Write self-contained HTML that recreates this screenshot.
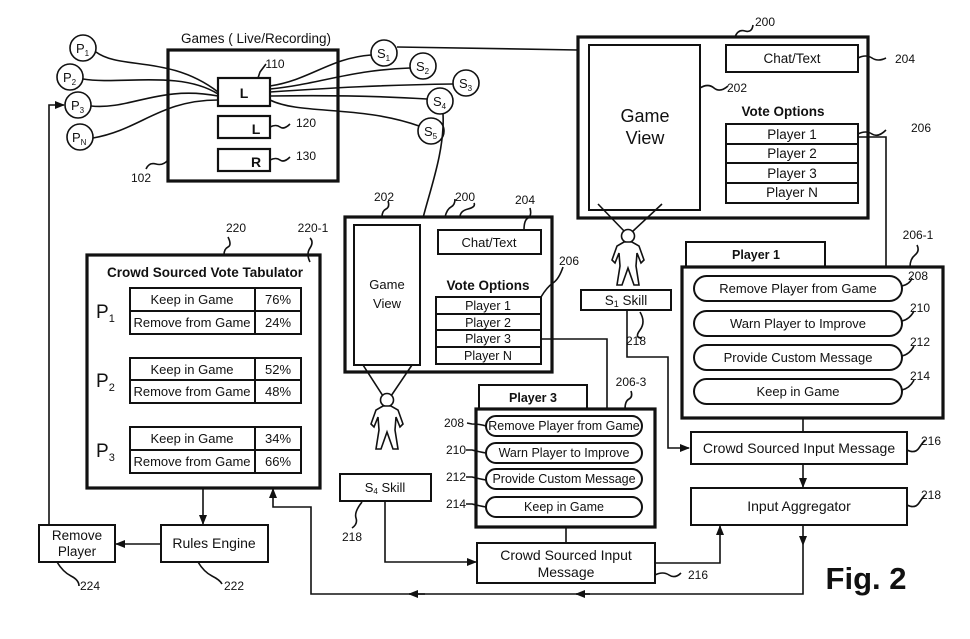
<!DOCTYPE html>
<html><head><meta charset="utf-8"><style>
html,body{margin:0;padding:0;background:#fff;}
svg{display:block;}
text{font-family:"Liberation Sans",Arial,sans-serif;fill:#111;}
</style></head><body>
<svg width="970" height="639" viewBox="0 0 970 639" xmlns="http://www.w3.org/2000/svg">
<defs>
<marker id="a" markerWidth="10" markerHeight="10" refX="9" refY="5" orient="auto" markerUnits="userSpaceOnUse"><path d="M0,1 L10,5 L0,9 Z" fill="#111"/></marker>
<g id="person" fill="#fff" stroke="#111" stroke-width="1.6">
<circle cx="0" cy="0" r="6.5"/>
<path d="M-4,6 L-11,10 L-16,24 L-13,27 L-9,17 L-8,30 L-11,49 L-6,49 L0,32 L6,49 L11,49 L8,30 L9,17 L13,27 L16,24 L11,10 L4,6 Z"/>
</g>
</defs>
<rect width="970" height="639" fill="#fff"/>
<g fill="none" stroke="#111" stroke-width="1.6">
<rect x="168" y="50" width="170" height="131" stroke-width="3.2"/>
<rect x="218" y="78" width="52" height="28" stroke-width="2.2"/>
<rect x="218" y="116" width="52" height="22" stroke-width="2.2"/>
<rect x="218" y="149" width="52" height="22" stroke-width="2.2"/>
<path d="M270,127 q6,-3 10,0 t10,-3"/>
<path d="M270,160 q6,-3 10,0 t10,-3"/>
<path d="M258,78 l2,-6 q3,-4 6,-8"/>
<path d="M168,160 q-5,6 -12,4 t-10,5"/>
<circle cx="83" cy="48" r="13"/><circle cx="70" cy="77" r="13"/><circle cx="78" cy="105" r="13"/><circle cx="80" cy="137" r="13"/>
<path d="M96,52 C120,70 170,55 218,92"/>
<path d="M83,79 C120,85 180,70 218,94"/>
<path d="M91,106 C130,110 160,85 218,96"/>
<path d="M93,138 C140,130 160,100 218,100"/>
<circle cx="384" cy="53" r="13"/><circle cx="423" cy="66" r="13"/><circle cx="466" cy="83" r="13"/><circle cx="440" cy="101" r="13"/><circle cx="431" cy="131" r="13"/>
<path d="M270,86 C310,80 330,58 371,55"/>
<path d="M270,89 C320,84 350,70 410,68"/>
<path d="M270,92 C330,88 380,85 453,84"/>
<path d="M270,96 C330,95 380,96 427,99"/>
<path d="M270,100 C300,115 360,105 419,126"/>
<path d="M397,47 L578,50"/>
<path d="M443,114 C445,150 430,190 423,218"/>
<rect x="578" y="37" width="290" height="181" stroke-width="3.2"/>
<rect x="589" y="45" width="111" height="165" stroke-width="2"/>
<rect x="726" y="45" width="132" height="27" stroke-width="2"/>
<rect x="726" y="124" width="132" height="79" stroke-width="2"/>
<path d="M726,144 H858 M726,163 H858 M726,183 H858" stroke-width="2"/>
<path d="M700,88 q8,-5 14,0 t14,-2"/>
<path d="M858,58 q8,-4 14,0 t14,0"/>
<path d="M858,134 q8,-4 14,0 t14,-4"/>
<path d="M735,37 q3,-8 10,-6 t8,-6"/>
<path d="M598,204 L625,232 M662,204 L632,232"/>
<rect x="581" y="290" width="90" height="20" stroke-width="2"/>
<path d="M627,310 V357 H668 V448 H689" marker-end="url(#a)"/>
<path d="M640,312 q6,10 0,18 t2,8"/>
<path d="M858,137 H886 V267"/>
<rect x="686" y="242" width="139" height="25" stroke-width="2"/>
<rect x="682" y="267" width="261" height="151" stroke-width="3.2"/>
<rect x="694" y="276" width="208" height="25" rx="12.5" stroke-width="2"/>
<rect x="694" y="311" width="208" height="25" rx="12.5" stroke-width="2"/>
<rect x="694" y="345" width="208" height="25" rx="12.5" stroke-width="2"/>
<rect x="694" y="379" width="208" height="25" rx="12.5" stroke-width="2"/>
<path d="M902,286 q8,-2 10,-8 M902,321 q8,-2 12,-10 M902,356 q8,-2 12,-10 M902,390 q8,-2 12,-10"/>
<path d="M910,267 q0,-8 5,-12 t2,-10"/>
<path d="M803,418 V432"/>
<rect x="691" y="432" width="216" height="32" stroke-width="2"/>
<rect x="691" y="488" width="216" height="37" stroke-width="2"/>
<path d="M803,464 V487" marker-end="url(#a)"/>
<path d="M803,525 V545" marker-end="url(#a)"/>
<path d="M907,450 q8,4 12,-2 t6,-8"/>
<path d="M907,505 q8,4 12,-2 t6,-8"/>
<path d="M803,545 V594 H311 V507 H273 V489" marker-end="url(#a)"/>
<path d="M590,594 H576" marker-end="url(#a)"/>
<path d="M425,594 H409" marker-end="url(#a)"/>
<rect x="345" y="217" width="207" height="155" stroke-width="3.2"/>
<rect x="354" y="225" width="66" height="140" stroke-width="2"/>
<rect x="438" y="230" width="103" height="24" stroke-width="2"/>
<rect x="436" y="297" width="105" height="67" stroke-width="2"/>
<path d="M436,314 H541 M436,330 H541 M436,347 H541" stroke-width="2"/>
<path d="M382,217 q0,-6 4,-8 t2,-8 M445,217 q2,-8 6,-10 t4,-8 M460,217 q0,-6 8,-8 t6,-6 M524,230 q0,-10 4,-12 t2,-10 M541,297 q6,-10 12,-14 t10,-16"/>
<path d="M541,339 H607 V409"/>
<path d="M363,365 L383,396 M412,365 L391,396"/>
<rect x="340" y="474" width="91" height="27" stroke-width="2"/>
<path d="M385,501 V562 H476" marker-end="url(#a)"/>
<path d="M362,502 q-8,10 -6,16 t-4,10"/>
<rect x="479" y="385" width="108" height="24" stroke-width="2"/>
<rect x="476" y="409" width="179" height="118" stroke-width="3.2"/>
<rect x="486" y="416" width="156" height="20" rx="10" stroke-width="2"/>
<rect x="486" y="443" width="156" height="20" rx="10" stroke-width="2"/>
<rect x="486" y="469" width="156" height="20" rx="10" stroke-width="2"/>
<rect x="486" y="497" width="156" height="20" rx="10" stroke-width="2"/>
<path d="M467,423 l5,1 q8,0 14,2 M466,450 l6,0 q8,2 14,3 M466,477 l6,0 q8,2 14,3 M466,504 l6,0 q8,2 14,3"/>
<path d="M625,409 q0,-8 4,-10 t2,-8"/>
<path d="M566,527 V543"/>
<rect x="477" y="543" width="178" height="40" stroke-width="2"/>
<path d="M655,563 H720 V526" marker-end="url(#a)"/>
<path d="M655,575 q8,-4 14,0 t12,-2"/>
<rect x="87" y="255" width="233" height="233" stroke-width="3.2"/>
<rect x="130" y="288" width="171" height="46" stroke-width="2"/>
<rect x="130" y="358" width="171" height="45" stroke-width="2"/>
<rect x="130" y="427" width="171" height="46" stroke-width="2"/>
<path d="M130,311 H301 M255,288 V334 M130,380 H301 M255,358 V403 M130,450 H301 M255,427 V473" stroke-width="2"/>
<path d="M224,255 q0,-6 4,-8 t0,-10 M310,262 q-4,-8 0,-14 t0,-10"/>
<path d="M203,488 V524" marker-end="url(#a)"/>
<rect x="161" y="525" width="107" height="37" stroke-width="2"/>
<rect x="39" y="525" width="76" height="37" stroke-width="2"/>
<path d="M161,544 H116" marker-end="url(#a)"/>
<path d="M49,525 V105 H64" marker-end="url(#a)"/>
<path d="M57,562 q6,10 14,14 t8,10 M198,562 q6,10 14,14 t10,8"/>
</g>
<use href="#person" x="628" y="236"/>
<use href="#person" x="387" y="400"/>
<g font-size="13.5" text-anchor="middle">
<text x="256" y="43">Games ( Live/Recording)</text>
<text x="244" y="98" font-weight="bold" font-size="14">L</text>
<text x="256" y="134" font-weight="bold" font-size="14">L</text>
<text x="256" y="167" font-weight="bold" font-size="14">R</text>
<text x="275" y="68" font-size="12">110</text>
<text x="306" y="127" font-size="12">120</text>
<text x="306" y="160" font-size="12">130</text>
<text x="141" y="182" font-size="12">102</text>
<text x="645" y="122" font-size="18">Game</text>
<text x="645" y="144" font-size="18">View</text>
<text x="792" y="63">Chat/Text</text>
<text x="783" y="116" font-weight="bold">Vote Options</text>
<text x="792" y="139">Player 1</text>
<text x="792" y="158">Player 2</text>
<text x="792" y="178">Player 3</text>
<text x="792" y="197">Player N</text>
<text x="737" y="92" font-size="12">202</text>
<text x="905" y="63" font-size="12">204</text>
<text x="921" y="132" font-size="12">206</text>
<text x="765" y="26" font-size="12">200</text>
<text x="626" y="305">S<tspan font-size="9" dy="2">1</tspan><tspan dy="-2"> Skill</tspan></text>
<text x="636" y="345" font-size="12">218</text>
<text x="756" y="259" font-weight="bold" font-size="12.5">Player 1</text>
<text x="918" y="239" font-size="12">206-1</text>
<text x="798" y="293" font-size="13">Remove Player from Game</text>
<text x="798" y="328" font-size="13">Warn Player to Improve</text>
<text x="798" y="362" font-size="13">Provide Custom Message</text>
<text x="798" y="396" font-size="13">Keep in Game</text>
<text x="918" y="280" font-size="12">208</text>
<text x="920" y="312" font-size="12">210</text>
<text x="920" y="346" font-size="12">212</text>
<text x="920" y="380" font-size="12">214</text>
<text x="799" y="453" font-size="14">Crowd Sourced Input Message</text>
<text x="799" y="511" font-size="14">Input Aggregator</text>
<text x="931" y="445" font-size="12">216</text>
<text x="931" y="499" font-size="12">218</text>
<text x="866" y="589" font-size="31" font-weight="bold">Fig. 2</text>
<text x="387" y="289" font-size="13">Game</text>
<text x="387" y="308" font-size="13">View</text>
<text x="489" y="247" font-size="13">Chat/Text</text>
<text x="488" y="290" font-weight="bold">Vote Options</text>
<text x="488" y="310" font-size="12.5">Player 1</text>
<text x="488" y="327" font-size="12.5">Player 2</text>
<text x="488" y="343" font-size="12.5">Player 3</text>
<text x="488" y="360" font-size="12.5">Player N</text>
<text x="384" y="201" font-size="12">202</text>
<text x="465" y="201" font-size="12">200</text>
<text x="525" y="204" font-size="12">204</text>
<text x="569" y="265" font-size="12">206</text>
<text x="385" y="492" font-size="13">S<tspan font-size="8" dy="2">4</tspan><tspan dy="-2"> Skill</tspan></text>
<text x="352" y="541" font-size="12">218</text>
<text x="533" y="402" font-weight="bold" font-size="12.5">Player 3</text>
<text x="631" y="386" font-size="12">206-3</text>
<text x="564" y="430" font-size="12.5">Remove Player from Game</text>
<text x="564" y="457" font-size="12.5">Warn Player to Improve</text>
<text x="564" y="483" font-size="12.5">Provide Custom Message</text>
<text x="564" y="511" font-size="12.5">Keep in Game</text>
<text x="454" y="427" font-size="12">208</text>
<text x="456" y="454" font-size="12">210</text>
<text x="456" y="481" font-size="12">212</text>
<text x="456" y="508" font-size="12">214</text>
<text x="566" y="560" font-size="14">Crowd Sourced Input</text>
<text x="566" y="577" font-size="14">Message</text>
<text x="698" y="579" font-size="12">216</text>
<text x="236" y="232" font-size="12">220</text>
<text x="313" y="232" font-size="12">220-1</text>
<text x="205" y="277" font-weight="bold">Crowd Sourced Vote Tabulator</text>
<g font-size="13">
<text x="192" y="304">Keep in Game</text><text x="278" y="304">76%</text>
<text x="192" y="327">Remove from Game</text><text x="278" y="327">24%</text>
<text x="192" y="374">Keep in Game</text><text x="278" y="374">52%</text>
<text x="192" y="396">Remove from Game</text><text x="278" y="396">48%</text>
<text x="192" y="443">Keep in Game</text><text x="278" y="443">34%</text>
<text x="192" y="466">Remove from Game</text><text x="278" y="466">66%</text>
</g>
<g text-anchor="start" font-size="19">
<text x="96" y="318">P<tspan font-size="11" dy="4">1</tspan></text>
<text x="96" y="387">P<tspan font-size="11" dy="4">2</tspan></text>
<text x="96" y="457">P<tspan font-size="11" dy="4">3</tspan></text>
</g>
<text x="214" y="548" font-size="14">Rules Engine</text>
<text x="77" y="540">Remove</text>
<text x="77" y="556">Player</text>
<text x="90" y="590" font-size="12">224</text>
<text x="234" y="590" font-size="12">222</text>
<g font-size="13" text-anchor="start">
<text x="76" y="53">P<tspan font-size="8" dy="3">1</tspan></text>
<text x="63" y="82">P<tspan font-size="8" dy="3">2</tspan></text>
<text x="71" y="110">P<tspan font-size="8" dy="3">3</tspan></text>
<text x="72" y="142">P<tspan font-size="8" dy="3">N</tspan></text>
<text x="377" y="58">S<tspan font-size="8" dy="3">1</tspan></text>
<text x="416" y="71">S<tspan font-size="8" dy="3">2</tspan></text>
<text x="459" y="88">S<tspan font-size="8" dy="3">3</tspan></text>
<text x="433" y="106">S<tspan font-size="8" dy="3">4</tspan></text>
<text x="424" y="136">S<tspan font-size="8" dy="3">5</tspan></text>
</g>
</g>
</svg>
</body></html>
